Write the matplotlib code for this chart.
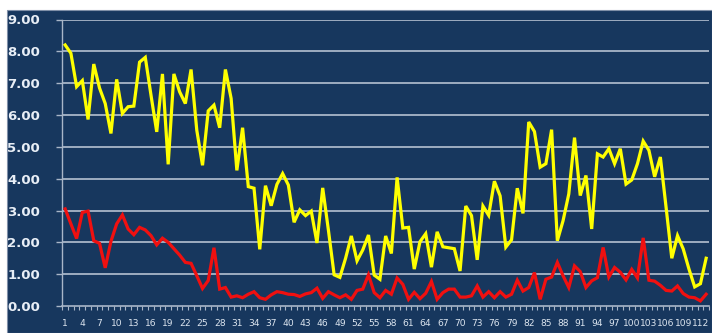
import matplotlib
matplotlib.use("Agg")
import matplotlib.pyplot as plt
from matplotlib.patches import Rectangle
import numpy as np

categories = list(range(1, 114))
yellow_values = [
    8.20, 7.94, 6.89, 7.08, 5.86, 7.60, 6.85, 6.36, 5.42, 7.12,
    6.05, 6.26, 6.28, 7.66, 7.81, 6.62, 5.47, 7.29, 4.45, 7.29,
    6.73, 6.36, 7.43, 5.52, 4.42, 6.13, 6.31, 5.60, 7.43, 6.52,
    4.26, 5.60, 3.75, 3.70, 1.78, 3.78, 3.15, 3.82, 4.16, 3.80,
    2.63, 3.02, 2.84, 2.98, 1.98, 3.71, 2.38, 0.98, 0.90, 1.50,
    2.20, 1.42, 1.76, 2.23, 0.97, 0.84, 2.20, 1.65, 4.04, 2.45,
    2.47, 1.16, 2.02, 2.27, 1.22, 2.33, 1.86, 1.83, 1.80, 1.10,
    3.14, 2.84, 1.45, 3.14, 2.85, 3.92, 3.46, 1.85, 2.08, 3.70,
    2.91, 5.78, 5.48, 4.36, 4.47, 5.54, 2.05, 2.68, 3.52, 5.29,
    3.47, 4.10, 2.42, 4.78, 4.68, 4.94, 4.47, 4.94, 3.83, 3.96,
    4.47, 5.18, 4.89, 4.06, 4.68, 3.10, 1.50, 2.21, 1.79, 1.16,
    0.60, 0.70, 1.50,
]
red_values = [
    3.05, 2.58, 2.12, 2.94, 2.98, 2.05, 1.97, 1.20, 2.03, 2.58,
    2.86, 2.42, 2.24, 2.47, 2.39, 2.21, 1.92, 2.13, 2.00, 1.80,
    1.60, 1.37, 1.34, 0.95, 0.55, 0.80, 1.83, 0.53, 0.58, 0.28,
    0.32, 0.26, 0.37, 0.45, 0.26, 0.21, 0.35, 0.45, 0.42, 0.37,
    0.36, 0.30, 0.38, 0.42, 0.56, 0.24, 0.45, 0.35, 0.26, 0.35,
    0.21, 0.49, 0.53, 0.98, 0.42, 0.26, 0.49, 0.37, 0.88, 0.68,
    0.21, 0.43, 0.23, 0.40, 0.77, 0.21, 0.42, 0.53, 0.53, 0.28,
    0.28, 0.32, 0.63, 0.28, 0.45, 0.26, 0.45, 0.28, 0.37, 0.81,
    0.47, 0.58, 1.05, 0.21, 0.84, 0.91, 1.37, 0.95, 0.58, 1.26,
    1.08, 0.58, 0.79, 0.89, 1.84, 0.91, 1.21, 1.06, 0.82, 1.15,
    0.88, 2.14, 0.81, 0.78, 0.65, 0.49, 0.47, 0.63, 0.39, 0.28,
    0.26, 0.16, 0.37,
]
x_tick_labels = [str(c) for c in categories if (c - 1) % 3 == 0]
y_ticks = [0, 1, 2, 3, 4, 5, 6, 7, 8, 9]

W, H = 712, 333
fig = plt.figure(figsize=(W / 100, H / 100), dpi=100)
fig.patch.set_facecolor("white")
navy = "#17375E"
bg = Rectangle((7 / W, 0), 1 - 7 / W, 1 - 10 / H,
               transform=fig.transFigure, facecolor=navy,
               edgecolor="#8090A8", linewidth=0.8, zorder=-10)
fig.add_artist(bg)

left, right, top, bottom = 62.3, 709.0, 19.5, 306.0
ax = fig.add_axes([left / W, (H - bottom) / H, (right - left) / W, (bottom - top) / H])
ax.set_zorder(5)
ax.set_facecolor(navy)

grid_col = "#A9B6C8"
for yv in y_ticks[1:]:
    ax.axhline(yv, color=grid_col, linewidth=1.3, zorder=1)

ax.plot(categories, yellow_values, color="#FFFF00", linewidth=2.3,
        solid_joinstyle="miter", zorder=3)
ax.plot(categories, red_values, color="#F01010", linewidth=2.3,
        solid_joinstyle="miter", zorder=3)

ax.set_xlim(0.5, len(categories) + 0.5)
ax.set_ylim(0, 9)

ax.set_yticks(y_ticks)
ax.set_yticklabels([f"{v:.2f}" for v in y_ticks], fontsize=9.5,
                   fontweight="bold", color="#E8EEF6")
major_x = [c for c in categories if (c - 1) % 3 == 0]
ax.set_xticks(major_x)
ax.set_xticklabels(x_tick_labels, fontsize=6.6, color="#DDE6F0")
ax.set_xticks(np.arange(0.5, len(categories) + 1, 1.0), minor=True)
ax.tick_params(axis="x", which="major", length=0, pad=9)
ax.tick_params(axis="x", which="minor", length=3, color=grid_col, width=0.8)
ax.tick_params(axis="y", which="major", length=4, color=grid_col, width=1.0, pad=12)

for s in ["top", "right"]:
    ax.spines[s].set_visible(False)
ax.spines["left"].set_color(grid_col)
ax.spines["bottom"].set_color(grid_col)
ax.spines["left"].set_linewidth(1.0)
ax.spines["bottom"].set_linewidth(1.2)

fig.savefig("out.png", dpi=100, facecolor=fig.get_facecolor())
